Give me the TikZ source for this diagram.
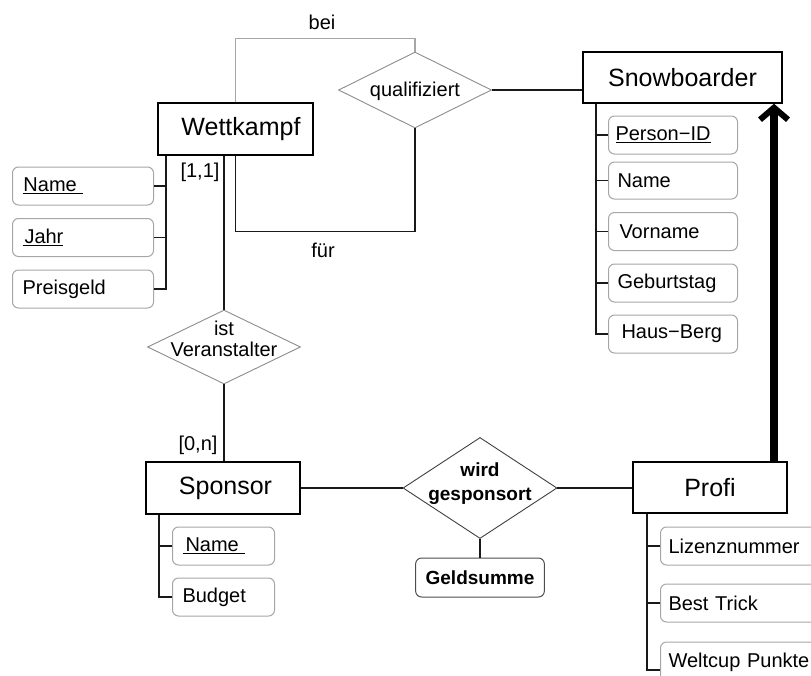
\documentclass[tikz,border=0pt]{standalone}
\usepackage{fontspec}
\setmainfont{Liberation Sans}
\usetikzlibrary{shapes.geometric,arrows.meta}
\newcommand{\dtext}[1]{\smash{\makebox[0pt]{\begin{tabular}{@{}c@{}}#1\end{tabular}}}}
\newcommand{\dline}[2]{\smash{\makebox[0pt]{\raisebox{#1}{#2}}}}
\begin{document}
\begin{tikzpicture}[x=1pt,y=-1pt,
 ent/.style={draw, line width=1.5pt, inner sep=0pt, font=\fontsize{25}{28}\selectfont},
 attr/.style={draw=black!35, rounded corners=6pt, line width=1pt, anchor=west, inner xsep=10pt, inner ysep=0pt, align=left, minimum height=38pt, font=\fontsize{20}{22}\selectfont},
 rel/.style={diamond, draw=black!45, line width=0.9pt, inner sep=0pt, font=\fontsize{20}{20}\selectfont},
 lbl/.style={font=\fontsize{20}{22}\selectfont, inner sep=0pt},
 conn/.style={line width=1.3pt, black!90},
 gconn/.style={line width=1.3pt, black!35},
]
\useasboundingbox (0,0) rectangle (811,675);
\clip (0,0) rectangle (811,675);

% entities
\node[ent, minimum width=155pt, minimum height=52pt] (wk) at (235.5,129) {\hspace{11pt}Wettkampf};
\node[ent, minimum width=199pt, minimum height=51pt] (sn) at (682.5,77.5) {Snowboarder\hspace{20pt}};
\node[ent, minimum width=154pt, minimum height=52pt] (sp) at (223,488) {\hspace{5pt}Sponsor};
\node[ent, minimum width=154pt, minimum height=51pt] (pf) at (710,487.5) {Profi};

% relationships
\node[rel, minimum width=153pt, minimum height=76pt] (q) at (415,90) {\dline{-6pt}{qualifiziert}};
\node[rel, minimum width=153pt, minimum height=74pt] (iv) at (224,347) {\dtext{ist\\Veranstalter}};
\node[rel, draw=black!75, minimum width=154pt, minimum height=101pt, font=\bfseries\fontsize{19}{24}\selectfont] (ws) at (480,488) {\dtext{wird\\gesponsort}};

% Wettkampf attributes
\node[attr, text width=121pt] (wn) at (12,186) {\underline{\hspace{1pt}Name\hspace{6pt}}};
\node[attr, text width=121pt] (wj) at (12,237.5) {\underline{\hspace{2pt}Jahr}};
\node[attr, text width=121pt] (wp) at (12,289) {Preisgeld};

% Snowboarder attributes
\node[attr, inner xsep=7pt, text width=115pt] (sid) at (608,135) {\underline{Person−ID}};
\node[attr, inner xsep=9pt, text width=111pt, minimum height=37pt] (snm) at (608,180.5) {Name};
\node[attr, inner xsep=11pt, text width=107pt] (svn) at (608,231.5) {Vorname};
\node[attr, inner xsep=9pt, text width=111pt] (sgb) at (608,283) {Geburtstag};
\node[attr, inner xsep=13pt, text width=103pt] (shb) at (608,334) {Haus−Berg};

% Sponsor attributes
\node[attr, text width=82pt] (spn) at (172,546) {\underline{\hspace{3pt}Name\hspace{6pt}}};
\node[attr, text width=82pt] (spb) at (172,597) {Budget};

% Profi attributes
\node[attr, inner xsep=8pt, text width=144pt] (pl) at (660,546) {Lizenznummer};
\node[attr, inner xsep=8pt, text width=144pt] (pb) at (660,603) {Best Trick};
\node[attr, inner xsep=8pt, text width=144pt, minimum height=40pt] (pw) at (660,662) {Weltcup Punkte};

% relationship attribute
\node[attr, anchor=center, draw=black!70, minimum width=128pt, minimum height=39pt, font=\bfseries\fontsize{19}{22}\selectfont] (gs) at (480,577.5) {Geldsumme};

% labels
\node[lbl] (bei) at (322,22) {bei};
\node[lbl] (fuer) at (323,250) {für};
\node[lbl] (c11) at (200,172) {[1,1]};
\node[lbl] (c0n) at (198,445) {[0,n]};

% helper coordinates
\coordinate (wa) at (166,0);
\coordinate (sa) at (596,0);
\coordinate (spa) at (159,0);
\coordinate (pa) at (647,0);
\coordinate (ar) at (774,0);

% relationship connectors
\draw[gconn] (wk.north) -- ++(0,-64) -| (q.north);
\draw[conn] (wk.south) -- ++(0,76) -| (q.south);
\draw[conn] (q.east) -- (q.east -| sn.west);
\draw[conn] (wk.south -| iv.north) -- (iv.north);
\draw[conn] (iv.south) -- (iv.south |- sp.north);
\draw[conn] (sp.east) -- (sp.east -| ws.west);
\draw[conn] (ws.east) -- (ws.east -| pf.west);
\draw[conn] (ws.south) -- (gs.north);

% attribute connectors
\draw[conn] (wk.south -| wa) |- (wp.east);
\draw[conn] (wn.east) -- (wn.east -| wa);
\draw[conn] (wj.east) -- (wj.east -| wa);

\draw[conn] (sn.south -| sa) |- (shb.west);
\draw[conn] (sid.west) -- (sid.west -| sa);
\draw[conn] (snm.west) -- (snm.west -| sa);
\draw[conn] (svn.west) -- (svn.west -| sa);
\draw[conn] (sgb.west) -- (sgb.west -| sa);

\draw[conn] (sp.south -| spa) |- (spb.west);
\draw[conn] (spn.west) -- (spn.west -| spa);

\draw[conn] (pf.south -| pa) |- ([yshift=-8pt]pw.west);
\draw[conn] (pl.west) -- (pl.west -| pa);
\draw[conn] (pb.west) -- (pb.west -| pa);

% inheritance arrow
\draw[line width=8pt, -{Straight Barb[length=12pt,width=28pt,line width=6pt]}] (pf.north -| ar) -- (sn.south -| ar);
\end{tikzpicture}
\end{document}
